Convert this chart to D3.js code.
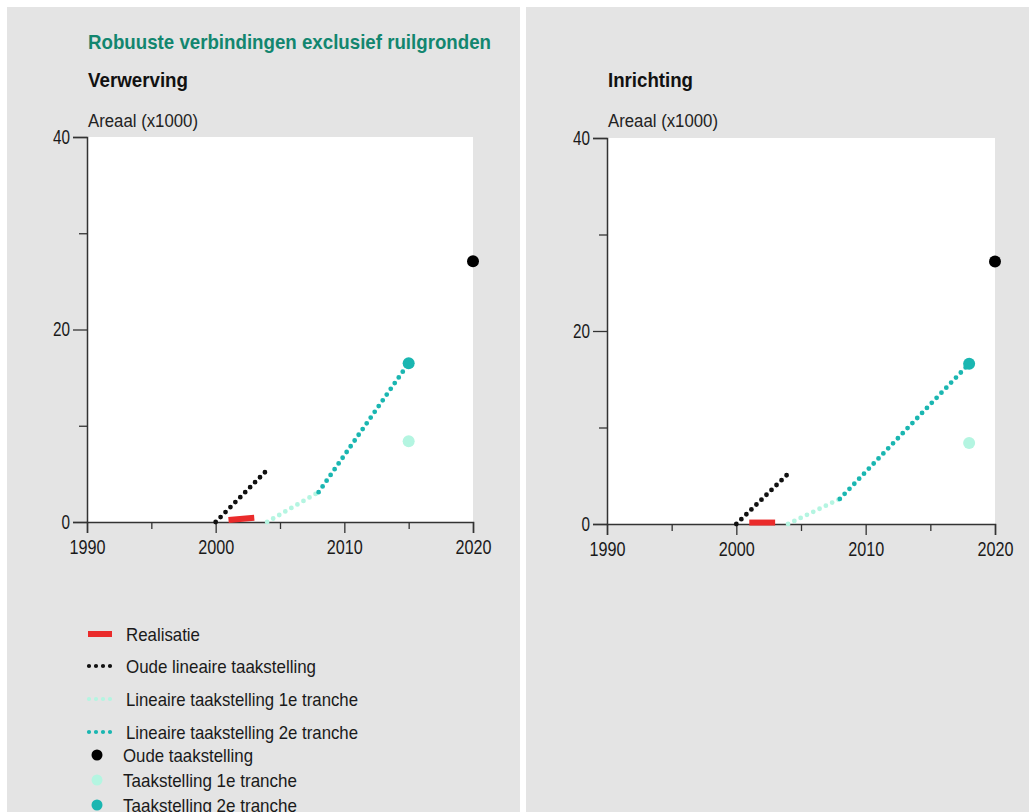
<!DOCTYPE html>
<html><head><meta charset="utf-8">
<script src="https://cdn.jsdelivr.net/npm/d3@7"></script>
<style>
html,body{margin:0;padding:0;background:#fff;}
svg{display:block;font-family:"Liberation Sans",Arial,sans-serif;}
</style></head>
<body>
<script>
// ---------- data ----------
const xMajorTicks = [1990, 2000, 2010, 2020];
const xMinorTicks = [1995, 2005, 2015];
const yMajorTicks = [0, 20, 40];
const yMinorTicks = [10, 30];

const chartTitle = "Robuuste verbindingen exclusief ruilgronden";
const panelTitles = ["Verwerving", "Inrichting"];
const yAxisLabel = "Areaal (x1000)";

// Verwerving
const realisatieV   = [[2001, 0.2], [2003, 0.45]];
const oudeLinV      = [[2000, 0], [2004, 5.4]];
const lin1V         = [[2004, 0], [2008, 3.1]];
const lin2V         = [[2008, 3.1], [2015, 16.5]];
const oudeTaakV     = [[2020, 27.1]];
const taak1V        = [[2015, 8.4]];
const taak2V        = [[2015, 16.5]];

// Inrichting
const realisatieI   = [[2001, 0.15], [2003, 0.15]];
const oudeLinI      = [[2000, 0], [2004, 5.2]];
const lin1I         = [[2004, 0], [2008, 2.6]];
const lin2I         = [[2008, 2.6], [2018, 16.6]];
const oudeTaakI     = [[2020, 27.2]];
const taak1I        = [[2018, 8.4]];
const taak2I        = [[2018, 16.6]];

const legendItems = [
  {label: "Realisatie", type: "solid", key: "real"},
  {label: "Oude lineaire taakstelling", type: "dot", key: "oudelin"},
  {label: "Lineaire taakstelling 1e tranche", type: "dot", key: "lin1"},
  {label: "Lineaire taakstelling 2e tranche", type: "dot", key: "lin2"},
  {label: "Oude taakstelling", type: "point", key: "oude"},
  {label: "Taakstelling 1e tranche", type: "point", key: "t1"},
  {label: "Taakstelling 2e tranche", type: "point", key: "t2"}
];

// ---------- style ----------
const colors = {real: "#ea2b2b", oudelin: "#111111", lin1: "#b4f5e1", lin2: "#1ab6b1",
                oude: "#000000", t1: "#b4f5e1", t2: "#1ab6b1"};
const W = 1029, H = 812;

const svg = d3.select("body").append("svg").attr("width", W).attr("height", H);
svg.append("rect").attr("width", W).attr("height", H).attr("fill", "#ffffff");
svg.append("rect").attr("x", 7).attr("y", 7).attr("width", 513).attr("height", H - 7).attr("fill", "#e4e4e4");
svg.append("rect").attr("x", 526).attr("y", 7).attr("width", W - 526).attr("height", H - 7).attr("fill", "#e4e4e4");

function fitText(sel, len) {
  sel.attr("textLength", len).attr("lengthAdjust", "spacingAndGlyphs");
}

svg.append("text").attr("x", 88).attr("y", 49).text(chartTitle)
  .attr("font-size", 20.5).attr("font-weight", "bold").attr("fill", "#12866f")
  .call(fitText, 403);

const panels = [
  {title: panelTitles[0], x0: 87, x1: 473, y0: 522, y1: 137, titleW: 100,
   real: realisatieV, oudelin: oudeLinV, lin1: lin1V, lin2: lin2V, oude: oudeTaakV, t1: taak1V, t2: taak2V},
  {title: panelTitles[1], x0: 607, x1: 995, y0: 524, y1: 138, titleW: 85,
   real: realisatieI, oudelin: oudeLinI, lin1: lin1I, lin2: lin2I, oude: oudeTaakI, t1: taak1I, t2: taak2I}
];

panels.forEach(p => {
  const g = svg.append("g");
  const x = d3.scaleLinear().domain([1990, 2020]).range([p.x0, p.x1]);
  const y = d3.scaleLinear().domain([0, 40]).range([p.y0, p.y1]);

  g.append("text").attr("x", p.x0 + 1).attr("y", 87).text(p.title)
    .attr("font-size", 20.5).attr("font-weight", "bold").attr("fill", "#111")
    .call(fitText, p.titleW);
  g.append("text").attr("x", p.x0 + 1).attr("y", 127).text(yAxisLabel)
    .attr("font-size", 17.5).attr("fill", "#222")
    .call(fitText, 110);

  g.append("rect").attr("x", p.x0).attr("y", p.y1).attr("width", p.x1 - p.x0)
    .attr("height", p.y0 - p.y1).attr("fill", "#ffffff");

  // axes
  const xMajor = d3.axisBottom(x).tickValues(xMajorTicks).tickSize(11).tickPadding(7).tickFormat(d3.format("d"));
  const xMinor = d3.axisBottom(x).tickValues(xMinorTicks).tickSize(7).tickFormat("");
  const yMajor = d3.axisLeft(y).tickValues(yMajorTicks).tickSize(14).tickPadding(3);
  const yMinor = d3.axisLeft(y).tickValues(yMinorTicks).tickSize(8).tickFormat("");

  [xMajor, xMinor].forEach((ax, i) => {
    const a = g.append("g").attr("transform", `translate(0,${p.y0})`).call(ax);
    if (i === 1) a.select(".domain").remove();
    a.selectAll("text").attr("font-size", 19.5).attr("fill", "#1a1a1a")
      .attr("font-family", "'Liberation Sans',Arial,sans-serif")
      .each(function(){ d3.select(this).call(fitText, 36); });
  });
  [yMajor, yMinor].forEach((ax, i) => {
    const a = g.append("g").attr("transform", `translate(${p.x0},0)`).call(ax);
    if (i === 1) a.select(".domain").remove();
    a.selectAll("text").attr("font-size", 19.5).attr("fill", "#1a1a1a")
      .attr("font-family", "'Liberation Sans',Arial,sans-serif")
      .each(function(d){ d3.select(this).call(fitText, String(d).length * 8.5); });
  });
  g.selectAll(".domain").attr("stroke", "#333").attr("stroke-width", 1.5);
  g.selectAll(".tick line").attr("stroke", "#333").attr("stroke-width", 1.3);

  const line = d3.line().x(d => x(d[0])).y(d => y(d[1]));

  // realisatie
  g.append("path").attr("d", line(p.real)).attr("fill", "none")
    .attr("stroke", colors.real).attr("stroke-width", 6);
  // dotted lines
  ["oudelin", "lin1", "lin2"].forEach(k => {
    g.append("path").attr("d", line(p[k])).attr("fill", "none")
      .attr("stroke", colors[k]).attr("stroke-width", 4.8)
      .attr("stroke-linecap", "round").attr("stroke-dasharray", "0 7");
  });
  // points
  ["oude", "t1", "t2"].forEach(k => {
    g.selectAll(null).data(p[k]).enter().append("circle")
      .attr("cx", d => x(d[0])).attr("cy", d => y(d[1])).attr("r", 6)
      .attr("fill", colors[k]);
  });
});

// legend
const legendY = [634, 666, 699, 732, 755, 780, 805];
const legendW = [74, 190, 232, 232, 130, 174, 174];
const lg = svg.append("g");
legendItems.forEach((it, i) => {
  const cy = legendY[i];
  const row = lg.append("g");
  if (it.type === "solid") {
    row.append("line").attr("x1", 88).attr("x2", 112).attr("y1", cy).attr("y2", cy)
      .attr("stroke", colors[it.key]).attr("stroke-width", 6);
  } else if (it.type === "dot") {
    row.append("line").attr("x1", 89).attr("x2", 112).attr("y1", cy).attr("y2", cy)
      .attr("stroke", colors[it.key]).attr("stroke-width", 4.2)
      .attr("stroke-linecap", "round").attr("stroke-dasharray", "0 7");
  } else {
    row.append("circle").attr("cx", 97).attr("cy", cy).attr("r", 5.5).attr("fill", colors[it.key]);
  }
  const tx = it.type === "point" ? 123 : 126;
  row.append("text").attr("x", tx).attr("y", cy + 6.5).text(it.label)
    .attr("font-size", 18.5).attr("fill", "#1a1a1a")
    .call(fitText, legendW[i]);
});
</script>
</body></html>
